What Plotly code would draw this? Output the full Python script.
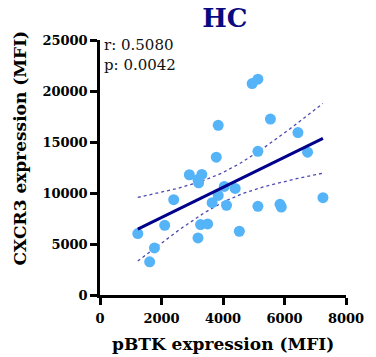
import numpy as np
import plotly.graph_objects as go

# Data
pbtk = [1229, 1615, 1771, 2104, 2396, 2906, 3187, 3208, 3312, 3187, 3271, 3500, 3646,
        3781, 3844, 3844, 4042, 4115, 4396, 4531, 4948, 5135, 5135, 5135, 5542, 5854,
        5896, 6437, 6750, 7250]
cxcr3 = [6025, 3255, 4620, 6836, 9343, 11790, 11330, 11000, 11820, 5600, 6900, 6965, 9050,
         13510, 9766, 16630, 10645, 8790, 10450, 6250, 20730, 21160, 14090, 8690, 17250, 8887,
         8626, 15920, 14000, 9540]
r_text = "r: 0.5080"
p_text = "p: 0.0042"
x_ticks = [0, 2000, 4000, 6000, 8000]
y_ticks = [0, 5000, 10000, 15000, 20000, 25000]

x = np.array(pbtk, float)
y = np.array(cxcr3, float)
n = len(x)
b, a = np.polyfit(x, y, 1)
xs = np.linspace(x.min(), x.max(), 60)
yfit = a + b * xs
resid = y - (a + b * x)
s = np.sqrt(np.sum(resid ** 2) / (n - 2))
tcrit = 2.05
se = s * np.sqrt(1 / n + (xs - x.mean()) ** 2 / np.sum((x - x.mean()) ** 2))

FONT = "DejaVu Serif"
fig = go.Figure()
fig.add_trace(go.Scatter(x=xs, y=yfit + tcrit * se, mode="lines",
                         line=dict(color="#4a4ab0", width=1.3, dash="dot"), hoverinfo="skip"))
fig.add_trace(go.Scatter(x=xs, y=yfit - tcrit * se, mode="lines",
                         line=dict(color="#4a4ab0", width=1.3, dash="dot"), hoverinfo="skip"))
fig.add_trace(go.Scatter(x=pbtk, y=cxcr3, mode="markers",
                         marker=dict(color="#55b4f8", size=11, line=dict(width=0))))
fig.add_trace(go.Scatter(x=xs, y=yfit, mode="lines",
                         line=dict(color="#00008b", width=3)))

fig.add_annotation(x=0, y=1.0, xref="paper", yref="paper", xanchor="left", yanchor="top",
                   text=r_text + "<br>" + p_text, showarrow=False, align="left",
                   font=dict(family=FONT, size=15, color="#111"), xshift=2, yshift=6)
fig.add_annotation(x=0.5, y=-0.192, xref="paper", yref="paper", xanchor="center",
                   yanchor="middle", text="<b>pBTK expression (MFI)</b>", showarrow=False,
                   font=dict(family=FONT, size=17, color="black"))
fig.add_annotation(x=-0.324, y=0.576, xref="paper", yref="paper", xanchor="center",
                   yanchor="middle", text="<b>CXCR3 expression (MFI)</b>", showarrow=False,
                   textangle=-90, font=dict(family=FONT, size=17, color="black"))

axis_common = dict(showgrid=False, zeroline=False, showline=True, linecolor="black",
                   linewidth=2.5, ticks="outside", tickwidth=2.5, ticklen=7, tickcolor="black",
                   tickfont=dict(family=FONT, size=13, color="black", weight="bold"))
fig.update_layout(
    width=376, height=357,
    margin=dict(l=100, r=20, t=40, b=62),
    paper_bgcolor="white", plot_bgcolor="white",
    showlegend=False,
    title=dict(text="<b>HC</b>", x=0.598, xanchor="center", y=0.975, yanchor="top",
               font=dict(family=FONT, size=26, color="#0a0a80")),
    xaxis=dict(range=[0, 8000], tickvals=x_ticks, ticktext=[str(v) for v in x_ticks],
               ticklabelstandoff=3, **axis_common),
    yaxis=dict(range=[0, 25000], tickvals=y_ticks, ticktext=[str(v) for v in y_ticks],
               **axis_common),
)
fig.write_html("out.html")
